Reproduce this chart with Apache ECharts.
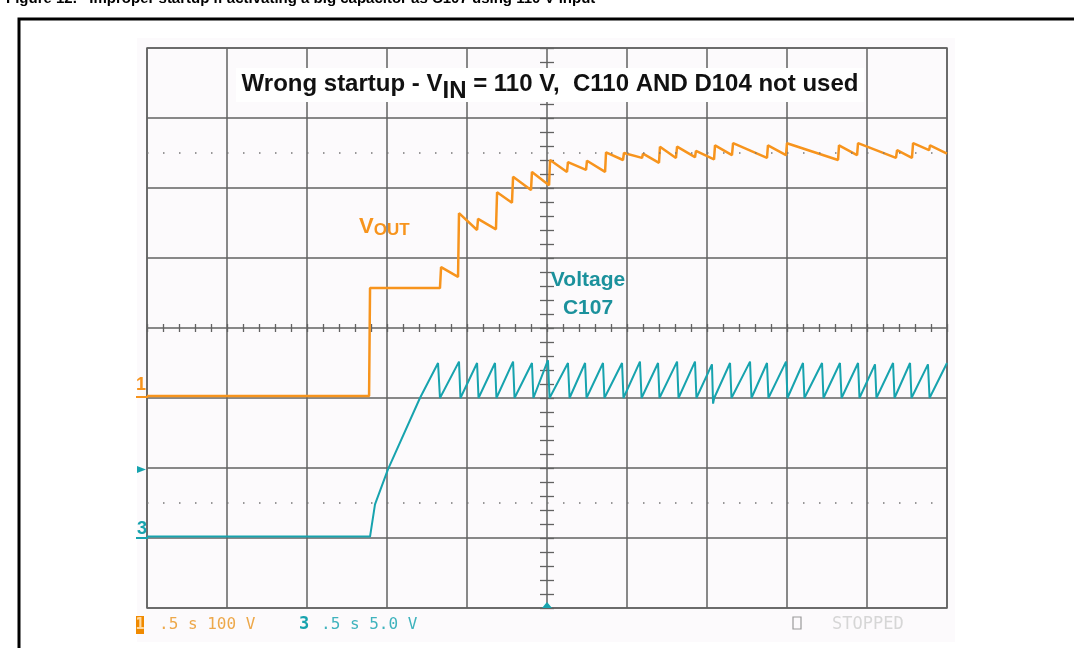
<!DOCTYPE html>
<html>
<head>
<meta charset="utf-8">
<script src="https://cdn.jsdelivr.net/npm/echarts@6/dist/echarts.min.js"></script>
<style>
  html, body { margin: 0; padding: 0; background: #ffffff; }
  #scope { width: 1074px; height: 648px; }
</style>
</head>
<body>
<div id="scope"></div>
<script>
// Channel 1: output voltage, [time (s), volts]
const vout = [
  [0.000, 3], [1.388, 3], [1.394, 157], [1.831, 157],
  [1.838, 187], [1.944, 173], [1.950, 264], [2.063, 240],
  [2.069, 256], [2.181, 241], [2.188, 294], [2.281, 279],
  [2.288, 316], [2.400, 297], [2.406, 323], [2.513, 304],
  [2.519, 340], [2.625, 323], [2.631, 337], [2.744, 326],
  [2.750, 339], [2.863, 323], [2.869, 351], [2.975, 340],
  [2.981, 350], [3.094, 343], [3.100, 349], [3.200, 336],
  [3.206, 359], [3.306, 343], [3.313, 359], [3.425, 344],
  [3.431, 353], [3.544, 341], [3.550, 361], [3.656, 347],
  [3.663, 364], [3.875, 343], [3.881, 361], [3.994, 347],
  [4.000, 364], [4.319, 340], [4.325, 361], [4.438, 347],
  [4.444, 364], [4.681, 343], [4.688, 354], [4.781, 343],
  [4.788, 364], [4.888, 354], [4.894, 361], [5.000, 349]
];

// Channel 3: voltage across C107, [time (s), volts]
const vC107 = [
  [0.000, 0.1], [1.394, 0.1], [1.425, 2.4], [1.506, 4.9], [1.706, 10.0],
  [1.819, 12.5], [1.831, 10.0],
  [1.950, 12.6], [1.959, 10.0], [2.063, 12.5], [2.072, 10.0],
  [2.175, 12.5], [2.184, 10.0], [2.288, 12.6], [2.297, 10.0],
  [2.406, 12.5], [2.415, 10.0], [2.506, 12.7], [2.516, 10.0],
  [2.631, 12.5], [2.641, 10.0], [2.738, 12.5], [2.747, 10.0],
  [2.850, 12.5], [2.859, 10.0], [2.969, 12.5], [2.978, 10.0],
  [3.081, 12.6], [3.091, 10.0], [3.194, 12.5], [3.203, 10.0],
  [3.313, 12.6], [3.322, 10.0], [3.425, 12.6], [3.434, 10.0],
  [3.531, 12.4], [3.538, 9.6], [3.545, 10.0], [3.644, 12.5], [3.653, 10.0],
  [3.769, 12.6], [3.778, 10.0], [3.875, 12.5], [3.884, 10.0],
  [3.994, 12.6], [4.003, 10.0], [4.100, 12.5], [4.109, 10.0],
  [4.219, 12.5], [4.228, 10.0], [4.331, 12.5], [4.341, 10.0],
  [4.444, 12.5], [4.453, 10.0], [4.550, 12.4], [4.559, 10.0],
  [4.663, 12.5], [4.672, 10.0], [4.769, 12.5], [4.778, 10.0],
  [4.881, 12.4], [4.891, 10.0], [5.000, 12.5]
];

// Scope settings: time base and vertical ranges (8 divisions each)
const timeRange = [0, 5];      // 0.5 s/div x 10 div
const ch1Range = [-300, 500];  // 100 V/div, ground 3 div above bottom
const ch3Range = [-5, 35];     // 5.0 V/div, ground 1 div above bottom
const dottedLevels = [350, -150];

const ORANGE = '#f7941d';
const TEAL = '#17a3ae';
const GRIDC = '#626262';
const SANS = '"Liberation Sans", Arial, sans-serif';
const MONO = '"DejaVu Sans Mono", monospace';

const chart = echarts.init(document.getElementById('scope'), null, { renderer: 'canvas' });

const hidden = { axisLine: { show: false }, axisTick: { show: false }, axisLabel: { show: false } };

// thin axes along the centre lines, used only for their tick marks
function centerTicks(inside, len, range, interval, offset, position) {
  return {
    type: 'value', min: range[0], max: range[1], interval: interval,
    position: position, offset: offset,
    axisLine: { show: false },
    axisLabel: { show: false },
    splitLine: { show: false },
    axisTick: { show: true, inside: inside, length: len, lineStyle: { color: GRIDC, width: 1.3 } },
    minorTick: { show: true, splitNumber: 5, length: len, lineStyle: { color: GRIDC, width: 1.3 } }
  };
}

chart.setOption({
  animation: false,
  backgroundColor: '#ffffff',
  grid: { left: 147, top: 48, width: 800, height: 560, show: true, borderColor: GRIDC, borderWidth: 1.5, backgroundColor: 'transparent' },
  xAxis: [
    Object.assign({ type: 'value', min: timeRange[0], max: timeRange[1], interval: 0.5,
      splitLine: { show: true, lineStyle: { color: GRIDC, width: 1.5 } } }, hidden),
    centerTicks(true, 4, timeRange, 0.5, -280, 'bottom'),
    centerTicks(false, 4, timeRange, 0.5, -280, 'bottom')
  ],
  yAxis: [
    Object.assign({ type: 'value', min: ch1Range[0], max: ch1Range[1], interval: 100,
      splitLine: { show: true, lineStyle: { color: GRIDC, width: 1.5 } } }, hidden),
    Object.assign({ type: 'value', min: ch3Range[0], max: ch3Range[1], interval: 5,
      splitLine: { show: false } }, hidden),
    centerTicks(true, 7, ch1Range, 100, -400, 'left'),
    centerTicks(false, 7, ch1Range, 100, -400, 'left')
  ],
  graphic: [
    // outer frame and faint screen area
    { type: 'rect', z: -10, shape: { x: 137, y: 38, width: 818, height: 604 }, style: { fill: '#fcfafc' } },
    { type: 'polyline', z: 10, shape: { points: [[19, 648], [19, 19], [1074, 19]] }, style: { stroke: '#000', lineWidth: 3, fill: null } },
    // figure caption, cut off by the top edge
    { type: 'text', z: 10, x: 6, y: 6, style: { text: 'Figure 12.   Improper startup if activating a big capacitor as C107 using 110 V input', font: 'bold 15px ' + SANS, fill: '#000', verticalAlign: 'bottom' } },
    // title box
    { type: 'rect', z: 5, shape: { x: 236, y: 68, width: 628, height: 34 }, style: { fill: '#ffffff' } },
    { type: 'text', z: 6, x: 550, y: 86, style: {
        text: '{b|Wrong startup - V}{s|IN}{b| = 110 V,  C110 AND D104 not used}',
        align: 'center', verticalAlign: 'middle',
        rich: {
          b: { font: 'bold 24px ' + SANS, fill: '#111', lineHeight: 28, verticalAlign: 'top' },
          s: { font: 'bold 24px ' + SANS, fill: '#111', lineHeight: 28, padding: [7, 0, 0, 0], verticalAlign: 'top' }
        } } },
    // trace labels
    { type: 'text', z: 6, x: 359, y: 228, style: {
        text: '{v|V}{o|OUT}', verticalAlign: 'middle',
        rich: {
          v: { font: 'bold 22px ' + SANS, fill: ORANGE, verticalAlign: 'top', lineHeight: 24 },
          o: { font: 'bold 17px ' + SANS, fill: ORANGE, verticalAlign: 'top', lineHeight: 24, padding: [6, 0, 0, 0] }
        } } },
    { type: 'text', z: 6, x: 588, y: 294, style: {
        text: 'Voltage\nC107', align: 'center', verticalAlign: 'middle', lineHeight: 28,
        font: 'bold 21px ' + SANS, fill: '#1b919c' } },
    // channel ground markers
    { type: 'text', z: 6, x: 141, y: 385, style: { text: '1', align: 'center', verticalAlign: 'middle', font: 'bold 18px ' + SANS, fill: ORANGE } },
    { type: 'line', z: 6, shape: { x1: 136, y1: 397, x2: 148, y2: 397 }, style: { stroke: ORANGE, lineWidth: 2 } },
    { type: 'text', z: 6, x: 142, y: 529, style: { text: '3', align: 'center', verticalAlign: 'middle', font: 'bold 18px ' + SANS, fill: TEAL } },
    { type: 'line', z: 6, shape: { x1: 136, y1: 538, x2: 148, y2: 538 }, style: { stroke: TEAL, lineWidth: 2 } },
    { type: 'polygon', z: 6, shape: { points: [[137, 466], [146, 469.5], [137, 473]] }, style: { fill: TEAL } },
    { type: 'polygon', z: 6, shape: { points: [[542, 608], [547, 602], [552, 608]] }, style: { fill: TEAL } },
    // status line
    { type: 'rect', z: 6, shape: { x: 136, y: 616, width: 8, height: 18 }, style: { fill: '#f08a00' } },
    { type: 'text', z: 7, x: 140, y: 625, style: { text: '1', align: 'center', verticalAlign: 'middle', font: 'bold 15px ' + MONO, fill: '#ffd9a0' } },
    { type: 'text', z: 6, x: 159, y: 625, style: { text: '.5 s 100 V', verticalAlign: 'middle', font: '16px ' + MONO, fill: '#eda84a' } },
    { type: 'text', z: 6, x: 299, y: 625, style: { text: '3', verticalAlign: 'middle', font: 'bold 17px ' + MONO, fill: TEAL } },
    { type: 'text', z: 6, x: 321, y: 625, style: { text: '.5 s 5.0 V', verticalAlign: 'middle', font: '16px ' + MONO, fill: '#3fb3bd' } },
    { type: 'rect', z: 6, shape: { x: 793, y: 617, width: 8, height: 12 }, style: { fill: 'none', stroke: '#9a9a9a', lineWidth: 1.2 } },
    { type: 'text', z: 6, x: 832, y: 625, style: { text: 'STOPPED', verticalAlign: 'middle', font: '17px ' + MONO, fill: '#d6d6d6' } }
  ],
  series: [
    {
      name: 'VOUT', type: 'line', xAxisIndex: 0, yAxisIndex: 0,
      data: vout, showSymbol: false, z: 4,
      lineStyle: { color: ORANGE, width: 2.5 },
      markLine: {
        silent: true, symbol: 'none', label: { show: false },
        lineStyle: { color: '#777', width: 1.5, type: [1.5, 14.5] },
        data: dottedLevels.map(v => ({ yAxis: v }))
      }
    },
    {
      name: 'C107', type: 'line', xAxisIndex: 0, yAxisIndex: 1,
      data: vC107, showSymbol: false, z: 4,
      lineStyle: { color: TEAL, width: 2 }
    }
  ]
});
</script>
</body>
</html>
